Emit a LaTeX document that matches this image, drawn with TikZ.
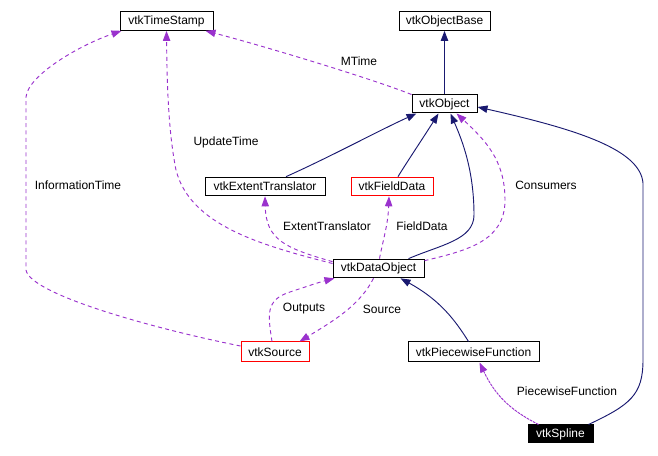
\documentclass[tikz,border=0pt]{standalone}
\usepackage{fontspec}
\setmainfont{Liberation Sans}
\usetikzlibrary{arrows.meta,calc}
\definecolor{inh}{HTML}{191970}
\definecolor{use}{HTML}{9A32CD}
\begin{document}
\begin{tikzpicture}[x=0.75pt,y=-0.75pt,
  font=\fontsize{9pt}{11pt}\selectfont,
  box/.style={draw=black,line width=0.75pt,inner sep=0pt,minimum height=14pt,fill=white},
  redbox/.style={draw=red,line width=0.75pt,inner sep=0pt,minimum height=14pt,fill=white},
  lbl/.style={inner sep=0pt},
  inhe/.style={draw=inh,line width=0.7pt,-{Triangle[length=7.5pt,width=5.5pt,fill=inh]}},
  usee/.style={draw=use,line width=0.7pt,dash pattern=on 3pt off 2.5pt,-{Triangle[length=7.5pt,width=5.5pt,fill=use]}},
  usedense/.style={usee,dash pattern=on 2pt off 0.7pt}]
\useasboundingbox (0,0) rectangle (658,456);
% nodes
\node[box,minimum width=69.75pt] (ts) at (166.5,21) {vtkTimeStamp};
\node[box,minimum width=68.25pt] (ob) at (444.5,21) {vtkObjectBase};
\node[box,minimum width=48.75pt,minimum height=13.5pt] (obj) at (444.5,104) {vtkObject};
\node[box,minimum width=90pt] (et) at (265,186.5) {vtkExtentTranslator};
\node[redbox,minimum width=61.5pt] (fd) at (392,186.5) {vtkFieldData};
\node[box,minimum width=68.25pt] (do) at (378.5,268.5) {vtkDataObject};
\node[redbox,minimum width=51pt,minimum height=15pt] (src) at (275,352) {vtkSource};
\node[box,minimum width=98.25pt,minimum height=15pt] (pf) at (473.5,352) {vtkPiecewiseFunction};
\node[box,fill=black,text=white,minimum width=48.75pt,minimum height=13.5pt] (sp) at (560.5,434) {vtkSpline};
% inheritance edges
\draw[inhe] (obj.north) -- (ob.south);
\draw[inhe] ($(et.north)+(21,0)$) .. controls (330,157) and (380,130) .. ($(obj.south west)+(5,0)$);
\draw[inhe] ($(fd.north)+(6,0)$) .. controls (405,165) and (425,135) .. ($(obj.south)+(-6,0)$);
\draw[inhe] ($(do.north east)+(-16,0)$) .. controls (440,245) and (474,240) .. (474,215) .. controls (474,170) and (462,140) .. ($(obj.south)+(6,0)$);
\draw[inhe] ($(pf.north)+(-5,0)$) .. controls (455,320) and (440,300) .. ($(do.south east)+(-24,0)$);
\draw[inhe] ($(sp.north east)+(-5,0)$) .. controls (630,405) and (643,395) .. (643,360) -- (643,183) .. controls (640,150) and (580,130) .. ($(obj.east)+(0,3)$);
% usage edges
\draw[usee] (obj.north west) .. controls (370,78) and (260,45) .. ($(ts.south east)+(-8,0)$);
\draw[usee] ($(do.west)+(0,-5)$) .. controls (260,245) and (190,225) .. (176,170) .. controls (168,130) and (167,80) .. (ts.south);
\draw[usee] ($(src.west)+(0,-6)$) .. controls (160,330) and (30,295) .. (26,270) -- (26,97) .. controls (28,75) and (80,45) .. ($(ts.south west)+(2,0)$);
\draw[usee] ($(do.north west)+(0,3)$) .. controls (285,248) and (266,240) .. (et.south);
\draw[usee] ($(do.north)+(1,0)$) .. controls (383,240) and (388,225) .. ($(fd.south)+(-3,0)$);
\draw[usee] ($(do.north east)+(0,2)$) .. controls (470,250) and (505,240) .. (505,200) .. controls (505,160) and (485,140) .. ($(obj.south)+(12,0)$);
\draw[usee] ($(src.north)+(-3,0)$) .. controls (268,315) and (265,300) .. (290,292) .. controls (305,287) and (320,282) .. ($(do.south west)+(2,0)$);
\draw[usee] ($(do.south)+(-5,0)$) .. controls (360,305) and (335,320) .. ($(src.north east)+(-10,0)$);
\draw[usedense] ($(sp.north)+(-22,0)$) .. controls (510,410) and (495,395) .. ($(pf.south)+(6,0)$);
% labels
\node[lbl] (lmt) at (359,61) {MTime};
\node[lbl] (lut) at (226,142) {UpdateTime};
\node[lbl] (lit) at (78,185) {InformationTime};
\node[lbl] (lco) at (546,185) {Consumers};
\node[lbl] (let) at (327,226) {ExtentTranslator};
\node[lbl] (lfd) at (422,226) {FieldData};
\node[lbl] (lou) at (304,309) {Outputs};
\node[lbl] (lso) at (382,309) {Source};
\node[lbl] (lpf) at (567,391) {PiecewiseFunction};
\end{tikzpicture}
\end{document}
